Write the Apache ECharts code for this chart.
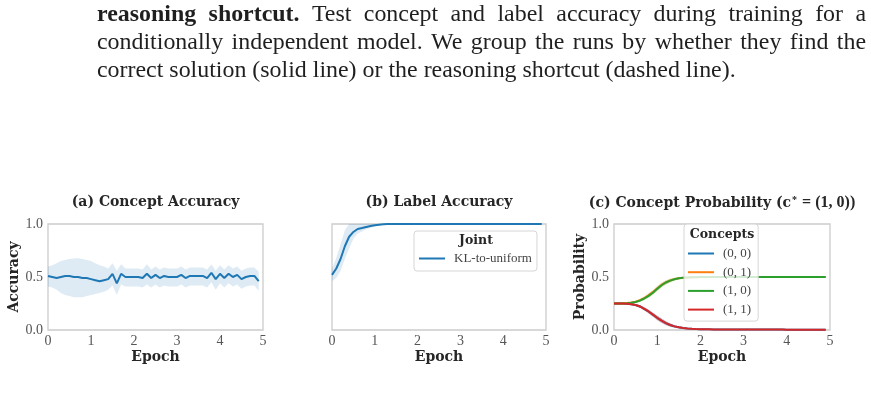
<!DOCTYPE html>
<html><head><meta charset="utf-8">
<script src="https://cdn.jsdelivr.net/npm/echarts@6/dist/echarts.min.js"></script>
<style>html,body{margin:0;padding:0;background:#fff}#c{width:871px;height:409px}</style>
</head><body><div id="c"></div>
<script>
// ---------------- data ----------------
const epochs = [0.0,0.1,0.2,0.3,0.4,0.5,0.6,0.7,0.8,0.9,
  1.0,1.1,1.2,1.3,1.4,1.5,1.6,1.7,1.8,1.9,
  2.0,2.1,2.2,2.3,2.4,2.5,2.6,2.7,2.8,2.9,
  3.0,3.1,3.2,3.3,3.4,3.5,3.6,3.7,3.8,3.9,
  4.0,4.1,4.2,4.3,4.4,4.5,4.6,4.7,4.8,4.9];

const xTicks = [0,1,2,3,4,5];
const yTicks = [0.0,0.5,1.0];

// (a) concept accuracy
const conceptAccMean = [0.51,0.50,0.49,0.50,0.51,0.51,0.50,0.50,0.49,0.49,
  0.48,0.47,0.46,0.47,0.48,0.53,0.44,0.53,0.50,0.50,
  0.50,0.50,0.49,0.53,0.49,0.52,0.49,0.51,0.50,0.50,
  0.50,0.52,0.49,0.51,0.51,0.51,0.51,0.49,0.54,0.48,
  0.53,0.49,0.53,0.50,0.52,0.48,0.50,0.51,0.51,0.46];
const conceptAccUpper = [0.60,0.61,0.63,0.65,0.66,0.67,0.675,0.676,0.67,0.66,
  0.65,0.63,0.61,0.60,0.58,0.63,0.56,0.62,0.58,0.58,
  0.58,0.58,0.57,0.62,0.57,0.60,0.57,0.59,0.58,0.58,
  0.58,0.60,0.57,0.59,0.59,0.59,0.59,0.57,0.62,0.56,
  0.61,0.57,0.61,0.58,0.60,0.56,0.58,0.59,0.59,0.55];
const conceptAccLower = [0.41,0.40,0.38,0.35,0.33,0.32,0.31,0.31,0.31,0.32,
  0.33,0.34,0.35,0.36,0.38,0.42,0.33,0.43,0.41,0.41,
  0.41,0.41,0.40,0.43,0.40,0.43,0.40,0.42,0.41,0.41,
  0.41,0.43,0.40,0.42,0.42,0.42,0.42,0.40,0.45,0.38,
  0.44,0.40,0.44,0.41,0.43,0.39,0.41,0.42,0.42,0.37];

// (b) label accuracy
const labelAccMean = [0.52,0.58,0.67,0.79,0.88,0.925,0.953,0.962,0.972,0.981,
  0.988,0.994,0.997,0.999,1,1,1,1,1,1,
  1,1,1,1,1,1,1,1,1,1, 1,1,1,1,1,1,1,1,1,1, 1,1,1,1,1,1,1,1,1,1];
const labelAccUpper = [0.58,0.68,0.81,0.94,1,1,1,1,1,1,
  1,1,1,1,1,1,1,1,1,1, 1,1,1,1,1,1,1,1,1,1, 1,1,1,1,1,1,1,1,1,1, 1,1,1,1,1,1,1,1,1,1];
const labelAccLower = [0.46,0.49,0.56,0.67,0.77,0.86,0.91,0.93,0.95,0.965,
  0.977,0.987,0.993,0.997,1,1,1,1,1,1,
  1,1,1,1,1,1,1,1,1,1, 1,1,1,1,1,1,1,1,1,1, 1,1,1,1,1,1,1,1,1,1];

// (c) concept probability
const probC00 = [0.25,0.25,0.249,0.247,0.243,0.236,0.222,0.2,0.175,0.145,
  0.115,0.088,0.065,0.047,0.034,0.025,0.019,0.014,0.011,0.009,
  0.008,0.007,0.006,0.005,0.005,0.005,0.005,0.005,0.005,0.005,
  0.004,0.004,0.004,0.004,0.004,0.004,0.004,0.004,0.004,0.004,
  0.003,0.003,0.003,0.003,0.003,0.003,0.003,0.003,0.003,0.003];
const probC01 = [0.25,0.25,0.251,0.254,0.259,0.267,0.281,0.301,0.327,0.357,
  0.392,0.425,0.45,0.467,0.48,0.488,0.493,0.496,0.497,0.498,
  0.499,0.499,0.499,0.499,0.499,0.499,0.499,0.499,0.499,0.499,
  0.499,0.499,0.499,0.499,0.499,0.499,0.499,0.499,0.499,0.499,
  0.499,0.499,0.499,0.499,0.499,0.499,0.499,0.499,0.499,0.499];
const probC10 = [0.25,0.25,0.251,0.253,0.257,0.264,0.277,0.297,0.322,0.352,
  0.388,0.422,0.448,0.466,0.479,0.488,0.493,0.496,0.497,0.498,
  0.499,0.499,0.499,0.499,0.499,0.499,0.499,0.499,0.499,0.499,
  0.499,0.499,0.499,0.499,0.499,0.499,0.499,0.499,0.499,0.499,
  0.499,0.499,0.499,0.499,0.499,0.499,0.499,0.499,0.499,0.499];
const probC11 = [0.25,0.25,0.249,0.247,0.243,0.236,0.222,0.2,0.175,0.145,
  0.115,0.088,0.065,0.047,0.034,0.025,0.019,0.014,0.011,0.009,
  0.008,0.007,0.006,0.005,0.005,0.005,0.005,0.005,0.005,0.005,
  0.004,0.004,0.004,0.004,0.004,0.004,0.004,0.004,0.004,0.004,
  0.003,0.003,0.003,0.003,0.003,0.003,0.003,0.003,0.003,0.003];
// half-width of the confidence band in (c)
const probSpread = [0.004,0.004,0.005,0.006,0.008,0.01,0.013,0.016,0.019,0.021,
  0.022,0.022,0.02,0.017,0.013,0.01,0.007,0.005,0.004,0.003,
  0.002,0.002,0.002,0.002,0.002,0.002,0.002,0.002,0.002,0.002,
  0.002,0.002,0.002,0.002,0.002,0.002,0.002,0.002,0.002,0.002,
  0.002,0.002,0.002,0.002,0.002,0.002,0.002,0.002,0.002,0.002];

const conceptNames = ['(0, 0)','(0, 1)','(1, 0)','(1, 1)'];
const labelLegendName = 'KL-to-uniform';

const captionBold = 'reasoning shortcut.';
const captionLine1 = 'Test concept and label accuracy during training for a';
const captionLine2 = 'conditionally independent model. We group the runs by whether they find the';
const captionLine3 = 'correct solution (solid line) or the reasoning shortcut (dashed line).';

// ---------------- styling ----------------
const BLUE='#1f77b4', ORANGE='#ff7f0e', GREEN='#2ca02c', RED='#d62728';
const SERIF_B = '"DejaVu Serif", serif';
const SERIF = '"Liberation Serif", serif';
const DARK = '#262626';

const grids = [
  {left:48, top:224, width:215, height:106},
  {left:332, top:224, width:214, height:106},
  {left:614, top:224, width:216, height:106}
];

function xAxisFor(i){
  return {type:'value', gridIndex:i, min:0, max:5, interval:1,
    axisLine:{show:false}, axisTick:{show:false}, splitLine:{show:false},
    axisLabel:{color:'#555', fontFamily:SERIF, fontSize:14, margin:4,
      customValues: xTicks, formatter: v => String(v)},
    name:'Epoch', nameLocation:'middle', nameGap:20,
    nameTextStyle:{fontFamily:SERIF_B, fontWeight:'bold', fontSize:14, color:DARK}};
}
function yAxisFor(i, name, showLabels){
  return {type:'value', gridIndex:i, min:0, max:1, interval:0.5,
    axisLine:{show:false}, axisTick:{show:false}, splitLine:{show:false},
    axisLabel:{show:showLabels, color:'#555', fontFamily:SERIF, fontSize:14, margin:5,
      formatter: v => v.toFixed(1)},
    name:name, nameLocation:'middle', nameGap:27,
    nameTextStyle:{fontFamily:SERIF_B, fontWeight:'bold', fontSize:14, color:DARK}};
}

function bandSeries(idx, lo, hi, color, opacity){
  return {type:'custom', xAxisIndex:idx, yAxisIndex:idx, silent:true, z:1,
    data: epochs.map((e,i)=>[e, lo[i], hi[i]]),
    encode:{x:0, y:[1,2]},
    renderItem: function(params, api){
      if (params.dataIndex !== 0) return null;
      const pts = [];
      for (let i=0;i<epochs.length;i++) pts.push(api.coord([epochs[i], hi[i]]));
      for (let i=epochs.length-1;i>=0;i--) pts.push(api.coord([epochs[i], lo[i]]));
      return {type:'polygon', shape:{points:pts}, style:{fill:color, opacity:opacity}};
    }};
}
function lineSeries(idx, name, vals, color){
  return {type:'line', name:name, xAxisIndex:idx, yAxisIndex:idx, z:3,
    data: epochs.map((e,i)=>[e, vals[i]]), showSymbol:false, symbol:'none',
    color:color, lineStyle:{color:color, width:2}, silent:true};
}

const cLo = v => v.map((m,i)=>m-probSpread[i]);
const cHi = v => v.map((m,i)=>m+probSpread[i]);

const series = [
  bandSeries(0, conceptAccLower, conceptAccUpper, BLUE, 0.15),
  lineSeries(0, 'concept', conceptAccMean, BLUE),
  bandSeries(1, labelAccLower, labelAccUpper, BLUE, 0.15),
  lineSeries(1, labelLegendName, labelAccMean, BLUE),
  bandSeries(2, cLo(probC00), cHi(probC00), BLUE, 0.2),
  bandSeries(2, cLo(probC01), cHi(probC01), ORANGE, 0.2),
  bandSeries(2, cLo(probC10), cHi(probC10), GREEN, 0.2),
  bandSeries(2, cLo(probC11), cHi(probC11), RED, 0.2),
  lineSeries(2, conceptNames[0], probC00, BLUE),
  lineSeries(2, conceptNames[1], probC01, ORANGE),
  lineSeries(2, conceptNames[2], probC10, GREEN),
  lineSeries(2, conceptNames[3], probC11, RED)
];

// ---------------- caption (justified) ----------------
const ctx = document.createElement('canvas').getContext('2d');
function mw(t, size, bold){ ctx.font = (bold?'bold ':'') + size + 'px ' + SERIF; return ctx.measureText(t).width; }
const capLeft = 97, capRight = 866, line3Right = 736;
const capSize = +(20 * (line3Right-capLeft) / mw(captionLine3, 20, false)).toFixed(2);
const capBase = [23, 51, 78.5];
const graphics = [];
function capText(x, base, text, bold){
  graphics.push({type:'text', x:x, y:base - capSize*0.33, silent:true, z:10,
    style:{text:text, font:(bold?'bold ':'') + capSize + 'px ' + SERIF, fill:'#1f1f1f', align:'left', verticalAlign:'middle'}});
}
function justified(words, base){
  const widths = words.map(w=>mw(w[0], capSize, w[1]));
  const total = widths.reduce((a,b)=>a+b,0);
  const gap = (capRight-capLeft-total)/(words.length-1);
  let x = capLeft;
  words.forEach((w,i)=>{ capText(x, base, w[0], w[1]); x += widths[i] + gap; });
}
justified(captionBold.split(' ').map(w=>[w,true]).concat(captionLine1.split(' ').map(w=>[w,false])), capBase[0]);
justified(captionLine2.split(' ').map(w=>[w,false]), capBase[1]);
capText(capLeft, capBase[2], captionLine3, false);

// legend titles
graphics.push({type:'text', x:476, y:241, z:20, silent:true,
  style:{text:'Joint', font:'bold 12.5px ' + SERIF_B, fill:DARK, align:'center', verticalAlign:'middle'}});
graphics.push({type:'text', x:722, y:235, z:20, silent:true,
  style:{text:'Concepts', font:'bold 12.5px ' + SERIF_B, fill:DARK, align:'center', verticalAlign:'middle'}});

const titleStyle = {fontFamily:SERIF_B, fontWeight:'bold', fontSize:14, color:DARK};
const legendCommon = {orient:'vertical', icon:'rect', itemWidth:26, itemHeight:2, selectedMode:false,
  backgroundColor:'rgba(255,255,255,0.8)', borderColor:'#d6d6d6', borderWidth:1, borderRadius:3,
  textStyle:{fontFamily:SERIF, fontSize:13, color:'#444', padding:[0,0,0,4]}, z:10};

const option = {
  animation:false,
  backgroundColor:'#fff',
  title:[
    {text:'(a) Concept Accuracy', left:155.5, top:195, textAlign:'center', padding:0, textStyle:titleStyle},
    {text:'(b) Label Accuracy', left:439, top:195, textAlign:'center', padding:0, textStyle:titleStyle},
    {text:'{b|(c) Concept Probability (c}{s|*}{m| = (1, 0))}', left:722, top:195, textAlign:'center', padding:0,
      textStyle:{rich:{
        b:{fontFamily:SERIF_B, fontWeight:'bold', fontSize:14, color:DARK},
        s:{fontFamily:SERIF, fontSize:10, color:DARK, verticalAlign:'top', padding:[0,1,0,1]},
        m:{fontFamily:SERIF, fontSize:16, color:DARK}
      }}}
  ],
  grid: grids.map(g=>Object.assign({show:true, borderColor:'#cccccc', borderWidth:1.3, backgroundColor:'transparent'}, g)),
  xAxis:[xAxisFor(0), xAxisFor(1), xAxisFor(2)],
  yAxis:[yAxisFor(0,'Accuracy',true), yAxisFor(1,'',false), yAxisFor(2,'Probability',true)],
  legend:[
    Object.assign({}, legendCommon, {data:[labelLegendName], left:414, top:231, padding:[21,5,6,5]}),
    Object.assign({}, legendCommon, {data:conceptNames, left:684, top:224, padding:[23,7,5,4], itemGap:5.7})
  ],
  graphic: graphics,
  series: series
};

const chart = echarts.init(document.getElementById('c'), null, {renderer:'canvas'});
chart.setOption(option);
</script>
</body></html>
